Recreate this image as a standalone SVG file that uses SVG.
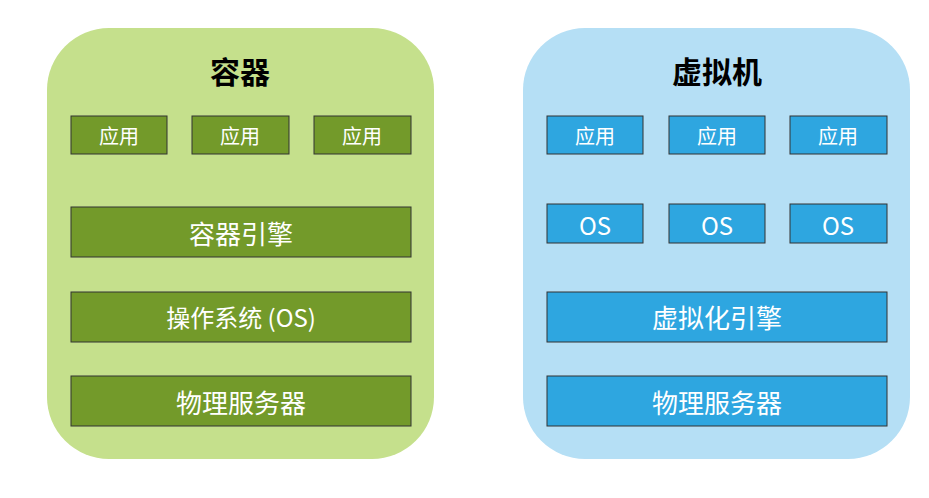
<svg xmlns="http://www.w3.org/2000/svg" width="929" height="498" viewBox="0 0 929 498">
<style>
text{font-family:"Noto Sans CJK SC","Noto Sans",sans-serif;fill:#fff;text-anchor:middle;dominant-baseline:central}
.t{fill:#000;font-weight:bold;font-size:30px}
.g{fill:#739a2a;stroke:#333;stroke-width:1}
.b{fill:#2ea6e0;stroke:#333;stroke-width:1}
.s{font-size:20px}.m{font-size:26px}.o{font-size:24px}
</style>
<g id="container">
<rect x="47" y="28" width="387" height="431" rx="62" fill="#c5e08c"/>
<text class="t" x="240" y="70">容器</text>
</g>
<g id="c-app1"><rect class="g" x="71" y="116" width="96" height="38"/><text class="s" x="119" y="135">应用</text></g>
<g id="c-app2"><rect class="g" x="192" y="116" width="97" height="38"/><text class="s" x="240" y="135">应用</text></g>
<g id="c-app3"><rect class="g" x="314" y="116" width="97" height="38"/><text class="s" x="362" y="135">应用</text></g>
<g id="c-engine"><rect class="g" x="71" y="207" width="340" height="50"/><text class="m" x="241" y="232">容器引擎</text></g>
<g id="c-os"><rect class="g" x="71" y="292" width="340" height="50"/><text class="o" x="241" y="316">操作系统 (OS)</text></g>
<g id="c-hw"><rect class="g" x="71" y="376" width="340" height="50"/><text class="m" x="241" y="401">物理服务器</text></g>
<g id="vm">
<rect x="523" y="28" width="387" height="431" rx="62" fill="#b5dff5"/>
<text class="t" x="717" y="70">虚拟机</text>
</g>
<g id="v-app1"><rect class="b" x="547" y="116" width="96" height="38"/><text class="s" x="595" y="135">应用</text></g>
<g id="v-app2"><rect class="b" x="669" y="116" width="96" height="38"/><text class="s" x="717" y="135">应用</text></g>
<g id="v-app3"><rect class="b" x="790" y="116" width="97" height="38"/><text class="s" x="838" y="135">应用</text></g>
<g id="v-os1"><rect class="b" x="547" y="204" width="96" height="39"/><text class="o" x="595" y="224">OS</text></g>
<g id="v-os2"><rect class="b" x="669" y="204" width="96" height="39"/><text class="o" x="717" y="224">OS</text></g>
<g id="v-os3"><rect class="b" x="790" y="204" width="97" height="39"/><text class="o" x="838" y="224">OS</text></g>
<g id="v-engine"><rect class="b" x="547" y="292" width="340" height="50"/><text class="m" x="717" y="316">虚拟化引擎</text></g>
<g id="v-hw"><rect class="b" x="547" y="376" width="340" height="50"/><text class="m" x="717" y="401">物理服务器</text></g>
<g id="connectors"/>
</svg>
